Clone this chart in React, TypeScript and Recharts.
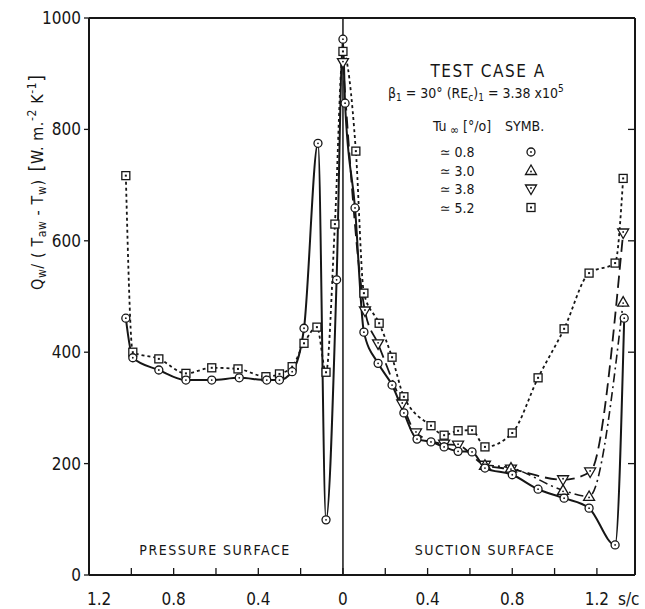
import React from "react"
import { LineChart, Line, XAxis, YAxis, ReferenceLine } from "recharts"

// s/c : pressure surface is negative, suction surface positive
const tu08X = [-1.026, -0.993, -0.87, -0.742, -0.62, -0.49, -0.36, -0.3, -0.24, -0.184, -0.118, -0.08, -0.03, 0, 0.01, 0.057, 0.099, 0.166, 0.232, 0.288, 0.35, 0.416, 0.478, 0.544, 0.61, 0.671, 0.8, 0.922, 1.045, 1.163, 1.286, 1.329]
const tu08Y = [461, 390, 368, 350, 350, 354, 350, 350, 365, 443, 775, 99, 530, 962, 847, 659, 436, 380, 341, 291, 244, 239, 230, 222, 221, 192, 180, 154, 138, 120, 54, 461]

const tu30X = [0.671, 0.794, 1.04, 1.163, 1.324]
const tu30Y = [197, 192, 152, 141, 490]

const tu38X = [0, 0.104, 0.166, 0.28, 0.345, 0.478, 0.544, 0.671, 0.794, 1.04, 1.168, 1.324]
const tu38Y = [920, 474, 415, 307, 255, 235, 233, 197, 190, 171, 185, 614]

const tu52X = [-1.026, -0.993, -0.87, -0.742, -0.62, -0.496, -0.364, -0.3, -0.24, -0.184, -0.123, -0.08, -0.038, 0, 0.061, 0.099, 0.171, 0.232, 0.288, 0.416, 0.478, 0.544, 0.61, 0.671, 0.8, 0.922, 1.045, 1.163, 1.286, 1.324]
const tu52Y = [717, 400, 388, 362, 372, 370, 356, 361, 374, 416, 445, 364, 630, 940, 761, 506, 452, 391, 320, 268, 251, 259, 260, 230, 255, 354, 442, 542, 560, 712]

const xTicks = [-1.2, -1.0, -0.8, -0.6, -0.4, -0.2, 0, 0.2, 0.4, 0.6, 0.8, 1.0, 1.2]
const xTickLabels = ["1.2", "", "0.8", "", "0.4", "", "0", "", "0.4", "", "0.8", "", "1.2"]
const yTicks = [0, 200, 400, 600, 800, 1000]
const yRightTicks = [200, 400, 600, 800]

const legendLabels = ["0.8", "3.0", "3.8", "5.2"]
const legendShapes = ["circle", "up", "down", "square"]

const INK = "#161616"
const FONT = "'DejaVu Sans Condensed', 'Liberation Sans Narrow', 'DejaVu Sans', sans-serif"

const pts = (xs: number[], ys: number[]) => xs.map((x, i) => ({ x, y: ys[i] }))

function Marker({ shape, cx, cy }: { shape: string; cx?: number; cy?: number }) {
  if (cx == null || cy == null) return null
  if (shape === "circle")
    return (
      <g>
        <circle cx={cx} cy={cy} r={4} fill="#fff" stroke={INK} strokeWidth={1.3} />
        <circle cx={cx} cy={cy} r={0.9} fill={INK} />
      </g>
    )
  if (shape === "square")
    return (
      <g>
        <rect x={cx - 4} y={cy - 4} width={8} height={8} fill="#fff" stroke={INK} strokeWidth={1.3} />
        <rect x={cx - 1} y={cy - 1} width={2} height={2} fill={INK} />
      </g>
    )
  const d = shape === "up" ? 1 : -1
  return (
    <g>
      <polygon
        points={`${cx},${cy - 5.5 * d} ${cx - 5.5},${cy + 4 * d} ${cx + 5.5},${cy + 4 * d}`}
        fill="#fff"
        stroke={INK}
        strokeWidth={1.3}
      />
      <circle cx={cx} cy={cy + d} r={0.9} fill={INK} />
    </g>
  )
}

const dotOf = (shape: string) => (p: any) => <Marker key={`${shape}-${p.index}`} shape={shape} cx={p.cx} cy={p.cy} />

function BottomTick({ x, y, payload }: any) {
  const i = xTicks.findIndex((t) => Math.abs(t - payload.value) < 1e-6)
  const label = xTickLabels[i] || ""
  return (
    <g>
      <line x1={x} y1={y} x2={x} y2={y - 7} stroke={INK} strokeWidth={1.3} />
      {label && (
        <text x={i === 0 ? x - 2 : x} y={y + 30} textAnchor={i === 0 ? "start" : "middle"} fontSize={17} fontFamily={FONT} fill={INK}>
          {label}
        </text>
      )}
    </g>
  )
}

function TopTick({ x, y }: any) {
  return <line x1={x} y1={y} x2={x} y2={y + 7} stroke={INK} strokeWidth={1.3} />
}

function RightTick({ x, y }: any) {
  return <line x1={x} y1={y} x2={x - 7} y2={y} stroke={INK} strokeWidth={1.3} />
}

export default function App() {
  const txt = { fontFamily: FONT, fill: INK }
  return (
    <div style={{ position: "absolute", left: 0, top: 0, width: 645, height: 609, background: "#fff" }}>
      <LineChart width={645} height={609} margin={{ top: 0, right: 0, bottom: 4, left: 29 }}>
        <XAxis
          dataKey="x"
          type="number"
          domain={[-1.2, 1.38]}
          ticks={xTicks}
          interval={0}
          allowDataOverflow
          height={30}
          tickSize={0}
          tickMargin={0}
          tickLine={false}
          axisLine={{ stroke: INK, strokeWidth: 2 }}
          tick={<BottomTick />}
        />
        <XAxis
          xAxisId="top"
          orientation="top"
          type="number"
          domain={[-1.2, 1.38]}
          ticks={xTicks}
          interval={0}
          allowDataOverflow
          height={18}
          tickSize={0}
          tickMargin={0}
          tickLine={false}
          axisLine={{ stroke: INK, strokeWidth: 2 }}
          tick={<TopTick />}
        />
        <YAxis
          type="number"
          domain={[0, 1000]}
          ticks={yTicks}
          interval={0}
          allowDataOverflow
          width={60}
          tickSize={5}
          tickMargin={3}
          tickLine={{ stroke: INK, strokeWidth: 1.3 }}
          axisLine={{ stroke: INK, strokeWidth: 2 }}
          tick={{ fontSize: 17, fontFamily: FONT, fill: INK }}
        />
        <YAxis
          yAxisId="right"
          orientation="right"
          type="number"
          domain={[0, 1000]}
          ticks={yRightTicks}
          interval={0}
          allowDataOverflow
          width={10}
          tickSize={0}
          tickMargin={0}
          tickLine={false}
          axisLine={{ stroke: INK, strokeWidth: 2 }}
          tick={<RightTick />}
        />
        <ReferenceLine x={0} stroke={INK} strokeWidth={1.5} />
        <Line data={pts(tu52X, tu52Y)} dataKey="y" type="monotone" stroke={INK} strokeWidth={1.8} strokeDasharray="3 3" dot={dotOf("square")} isAnimationActive={false} />
        <Line data={pts(tu38X, tu38Y)} dataKey="y" type="monotone" stroke={INK} strokeWidth={1.8} strokeDasharray="12 6" dot={dotOf("down")} isAnimationActive={false} />
        <Line data={pts(tu30X, tu30Y)} dataKey="y" type="monotone" stroke={INK} strokeWidth={1.6} strokeDasharray="9 4 2 4" dot={dotOf("up")} isAnimationActive={false} />
        <Line data={pts(tu08X, tu08Y)} dataKey="y" type="monotone" stroke={INK} strokeWidth={2} dot={dotOf("circle")} isAnimationActive={false} />
      </LineChart>

      <svg width={645} height={609} style={{ position: "absolute", left: 0, top: 0, pointerEvents: "none" }}>
        <text transform="rotate(-90, 43, 290)" x={43} y={290} textAnchor="start" fontSize={16} letterSpacing={0.6} {...txt}>
          <tspan>Q</tspan>
          <tspan dy={3} fontSize={12}>w</tspan>
          <tspan dy={-3}>/ ( T</tspan>
          <tspan dy={3} fontSize={12}>aw</tspan>
          <tspan dy={-3}> - T</tspan>
          <tspan dy={3} fontSize={12}>w</tspan>
          <tspan dy={-3}>)</tspan>
          <tspan dx={8} fontSize={19}>[</tspan>
          <tspan>W. m.</tspan>
          <tspan dy={-7} fontSize={12}>-2</tspan>
          <tspan dy={7}> K</tspan>
          <tspan dy={-7} fontSize={12}>-1</tspan>
          <tspan dy={7} fontSize={19}>]</tspan>
        </text>

        <text x={488} y={77} textAnchor="middle" fontSize={17} letterSpacing={1.5} {...txt}>TEST CASE A</text>
        <text x={388} y={98} fontSize={14} {...txt}>
          <tspan>β</tspan>
          <tspan dy={3} fontSize={10}>1</tspan>
          <tspan dy={-3}> = 30°   (RE</tspan>
          <tspan dy={3} fontSize={10}>c</tspan>
          <tspan dy={-3}>)</tspan>
          <tspan dy={3} fontSize={10}>1</tspan>
          <tspan dy={-3}> =  3.38 x10</tspan>
          <tspan dy={-6} fontSize={10}>5</tspan>
        </text>
        <text x={433} y={131} fontSize={14} {...txt}>
          <tspan>Tu</tspan>
          <tspan dy={3} fontSize={12}> ∞</tspan>
          <tspan dy={-3}> [°/o]</tspan>
        </text>
        <text x={505} y={131} fontSize={14} {...txt}>SYMB.</text>
        {legendLabels.map((lab, i) => (
          <g key={lab}>
            <text x={440} y={157 + i * 18.5} fontSize={14} {...txt}>
              ≃ {lab}
            </text>
            <Marker shape={legendShapes[i]} cx={531} cy={152 + i * 18.5} />
          </g>
        ))}

        <text x={215} y={555} textAnchor="middle" fontSize={14} letterSpacing={1.5} {...txt}>PRESSURE SURFACE</text>
        <text x={485} y={555} textAnchor="middle" fontSize={14} letterSpacing={1.5} {...txt}>SUCTION SURFACE</text>
        <text x={618} y={605} fontSize={17} {...txt}>s/c</text>
      </svg>
    </div>
  )
}
